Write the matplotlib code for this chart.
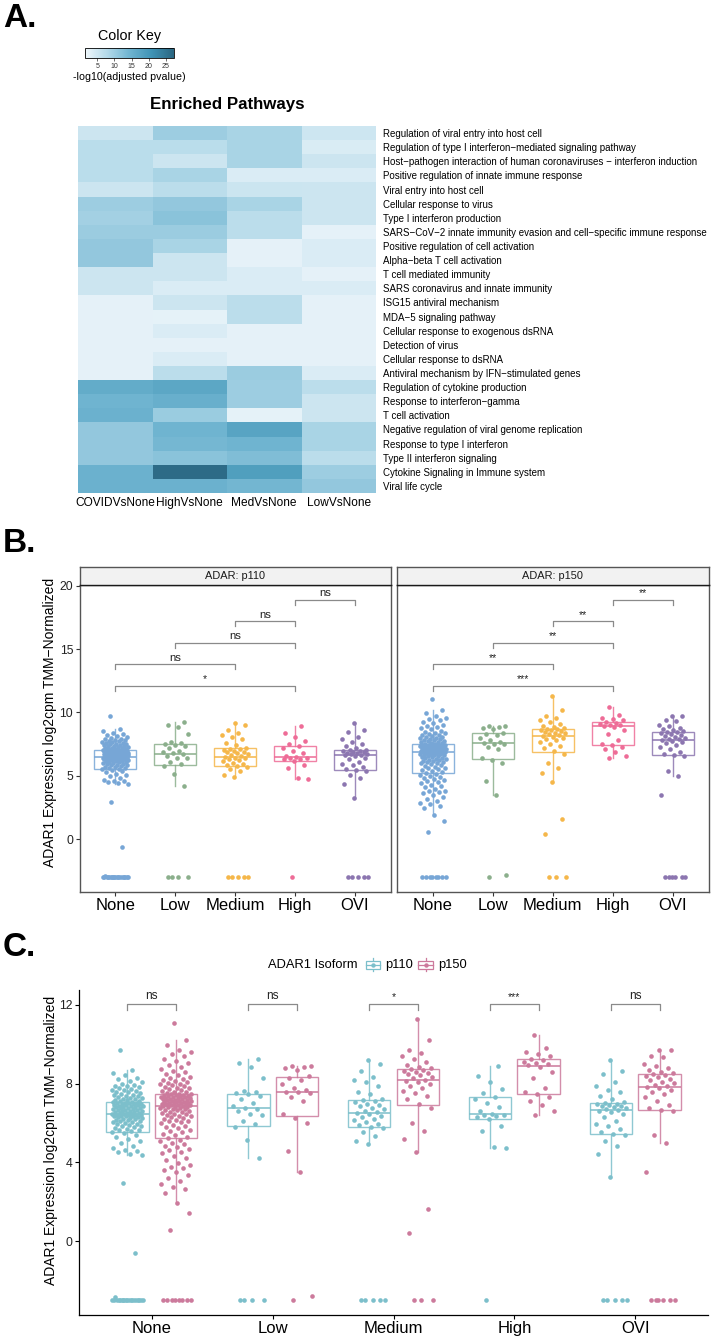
import numpy as np
import matplotlib.pyplot as plt
from matplotlib.colors import LinearSegmentedColormap, Normalize
from matplotlib.cm import ScalarMappable
from matplotlib.patches import Rectangle
from matplotlib.lines import Line2D
from matplotlib.legend_handler import HandlerBase
from matplotlib.colors import to_rgba

plt.rcParams['font.family'] = ['Liberation Sans', 'DejaVu Sans']

# ---------------- panel A: enriched pathways, -log10(adjusted pvalue)
pathways = [
    "Regulation of viral entry into host cell",
    "Regulation of type I interferon\u2212mediated signaling pathway",
    "Host\u2212pathogen interaction of human coronaviruses \u2212 interferon induction",
    "Positive regulation of innate immune response",
    "Viral entry into host cell",
    "Cellular response to virus",
    "Type I interferon production",
    "SARS\u2212CoV\u22122 innate immunity evasion and cell\u2212specific immune response",
    "Positive regulation of cell activation",
    "Alpha\u2212beta T cell activation",
    "T cell mediated immunity",
    "SARS coronavirus and innate immunity",
    "ISG15 antiviral mechanism",
    "MDA\u22125 signaling pathway",
    "Cellular response to exogenous dsRNA",
    "Detection of virus",
    "Cellular response to dsRNA",
    "Antiviral mechanism by IFN\u2212stimulated genes",
    "Regulation of cytokine production",
    "Response to interferon\u2212gamma",
    "T cell activation",
    "Negative regulation of viral genome replication",
    "Response to type I interferon",
    "Type II interferon signaling",
    "Cytokine Signaling in Immune system",
    "Viral life cycle",
]
comparisons = ["COVIDVsNone", "HighVsNone", "MedVsNone", "LowVsNone"]
covid_vs_none = [5.3, 7.1, 7.1, 7.1, 5.3, 10.0, 9.5, 10.2, 11.0, 11.0, 5.3, 5.3, 2.7,
                 2.7, 2.7, 2.7, 2.7, 2.7, 16.0, 14.4, 15.0, 11.0, 11.0, 11.0, 15.0, 15.0]
high_vs_none = [10.0, 7.1, 5.3, 8.9, 7.0, 11.0, 11.8, 10.2, 8.9, 5.3, 5.3, 3.8, 5.3,
                2.6, 3.8, 2.7, 3.8, 7.0, 17.0, 15.4, 10.3, 14.4, 13.8, 11.8, 26.4, 15.0]
med_vs_none = [8.9, 8.9, 8.9, 3.8, 5.4, 8.9, 7.0, 7.0, 2.7, 2.7, 3.8, 3.8, 7.0,
               7.0, 2.7, 2.7, 2.7, 10.2, 10.0, 10.0, 2.6, 17.5, 14.4, 12.8, 18.6, 14.0]
low_vs_none = [5.2, 3.9, 5.3, 3.8, 5.3, 5.3, 5.3, 2.7, 3.8, 3.8, 2.7, 3.8, 2.7,
               2.7, 2.7, 2.7, 2.7, 3.8, 7.0, 5.3, 5.3, 8.9, 8.9, 7.0, 10.0, 11.0]
key_ticks = [5, 10, 15, 20, 25]

# ---------------- panels B/C: ADAR1 expression, log2cpm TMM-normalized
groups = ["None", "Low", "Medium", "High", "OVI"]

none_p110 = [-3.0] * 19 + [-2.85, -0.6, 2.94] + [
    4.36, 4.41, 4.52, 4.58, 4.63, 4.71, 4.85, 4.97, 5.06, 5.18, 5.27, 5.38, 5.47,
    5.55, 5.58, 5.63, 5.66, 5.71, 5.74, 5.79, 5.83, 5.86, 5.9, 5.93, 5.97, 6.01, 6.03,
    6.06, 6.09, 6.12, 6.14, 6.17, 6.19, 6.22, 6.24, 6.27, 6.29, 6.31, 6.33, 6.35, 6.37,
    6.38, 6.4, 6.41, 6.42, 6.43, 6.44, 6.45,
    6.48, 6.5, 6.52, 6.53, 6.55, 6.57, 6.59, 6.61, 6.63, 6.65, 6.66, 6.68, 6.7, 6.72,
    6.74, 6.75, 6.77, 6.79, 6.8, 6.82, 6.84, 6.86, 6.87, 6.89, 6.91, 6.93, 6.94, 6.96,
    6.98, 7.0, 7.01, 7.03, 7.04, 7.06, 7.07,
    7.1, 7.12, 7.15, 7.18, 7.2, 7.23, 7.26, 7.29, 7.32, 7.35, 7.38, 7.41, 7.44, 7.48,
    7.51, 7.55, 7.58, 7.62, 7.66, 7.7, 7.74, 7.78, 7.82, 7.86, 7.9, 7.95, 8.0, 8.07,
    8.15, 8.22, 8.3, 8.42, 8.55, 8.7, 9.7]
none_p150 = [-3.0] * 8 + [0.57, 1.41] + [
    1.93, 2.45, 2.62, 2.75, 2.9, 3.05, 3.22, 3.35, 3.5, 3.62, 3.7, 3.78, 3.85, 3.95,
    4.1, 4.2, 4.32, 4.45, 4.55, 4.62, 4.7, 4.78, 4.85, 4.92, 5.0, 5.08, 5.14,
    5.22, 5.3, 5.38, 5.45, 5.52, 5.6, 5.66, 5.72, 5.8, 5.86, 5.92, 5.98, 6.03, 6.08,
    6.12, 6.17, 6.21, 6.25, 6.29, 6.33, 6.37, 6.41, 6.45, 6.48, 6.52, 6.55, 6.58, 6.61,
    6.64, 6.67, 6.7, 6.72, 6.75, 6.77, 6.79, 6.81, 6.83, 6.85,
    6.87, 6.89, 6.9, 6.92, 6.94, 6.95, 6.97, 6.99, 7.0, 7.02, 7.04, 7.05, 7.07, 7.09,
    7.1, 7.12, 7.14, 7.15, 7.17, 7.19, 7.2, 7.22, 7.24, 7.26, 7.27, 7.29, 7.31, 7.32,
    7.34, 7.36, 7.37, 7.39, 7.4, 7.42, 7.43, 7.45, 7.46,
    7.49, 7.53, 7.57, 7.6, 7.64, 7.68, 7.72, 7.76, 7.8, 7.84, 7.88, 7.92, 7.96, 8.0,
    8.05, 8.1, 8.15, 8.2, 8.25, 8.3, 8.36, 8.42, 8.5, 8.58, 8.66, 8.75, 8.85, 8.95,
    9.05, 9.15, 9.25, 9.38, 9.5, 9.6, 9.7, 9.95, 10.2, 11.1]
low_p110 = [-3.0, -3.0, -3.0, -3.0, 4.2, 5.13, 5.8, 5.95, 6.1, 6.4, 6.45, 6.6, 6.7,
            6.78, 6.85, 7.0, 7.2, 7.35, 7.45, 7.5, 7.6, 7.65, 8.3, 8.85, 9.05, 9.25]
low_p150 = [-3.0, -2.8, 3.52, 4.6, 6.0, 6.25, 6.45, 7.1, 7.3, 7.5, 7.55, 7.6, 7.7,
            7.8, 8.0, 8.2, 8.3, 8.4, 8.7, 8.8, 8.85, 8.9, 8.9]
med_p110 = [-3.0] * 5 + [
    4.93, 5.1, 5.35, 5.55, 5.72, 5.8, 5.88, 5.95, 6.05, 6.15, 6.22, 6.3, 6.38, 6.45,
    6.5, 6.55, 6.62, 6.7, 6.78, 6.85, 6.9, 6.98, 7.05, 7.1, 7.15, 7.2, 7.45, 7.6, 7.9,
    8.1, 8.2, 8.35, 8.65, 9.0, 9.2]
med_p150 = [-3.0] * 3 + [
    0.4, 1.64, 4.53, 5.2, 5.6, 6.0, 6.75, 6.95, 7.2, 7.35, 7.5, 7.65, 7.8, 7.9, 8.0,
    8.08, 8.15, 8.2, 8.28, 8.35, 8.42, 8.5, 8.55, 8.6, 8.65, 8.7, 8.72, 8.78, 8.85,
    8.95, 9.1, 9.25, 9.4, 9.55, 9.7, 10.2, 11.3]
high_p110 = [-3.0, 4.75, 4.8, 5.6, 5.85, 6.2, 6.3, 6.35, 6.4, 6.43, 6.47, 6.6, 6.8,
             7.0, 7.2, 7.32, 7.5, 7.75, 8.1, 8.4, 8.9]
high_p150 = [6.4, 6.6, 6.9, 7.1, 7.3, 7.45, 7.55, 7.8, 8.3, 8.6, 8.85, 8.95, 9.0,
             9.05, 9.1, 9.18, 9.25, 9.4, 9.5, 9.6, 9.8, 10.47]
ovi_p110 = [-3.0] * 5 + [
    3.27, 4.4, 4.85, 5.1, 5.4, 5.45, 5.55, 5.7, 5.85, 5.95, 6.1, 6.3, 6.45, 6.55,
    6.62, 6.68, 6.72, 6.76, 6.8, 6.84, 6.88, 6.92, 6.95, 6.98, 7.02, 7.06, 7.2, 7.35,
    7.55, 7.7, 7.9, 8.1, 8.5, 8.65, 9.2]
ovi_p150 = [-3.0] * 6 + [
    3.5, 4.97, 5.4, 6.6, 6.65, 6.75, 6.9, 7.1, 7.3, 7.45, 7.6, 7.7, 7.78, 7.82, 7.88,
    7.95, 8.02, 8.1, 8.18, 8.25, 8.32, 8.38, 8.44, 8.48, 8.52, 8.6, 8.7, 8.8, 8.9,
    9.0, 9.35, 9.4, 9.7, 9.7]

p110 = [none_p110, low_p110, med_p110, high_p110, ovi_p110]
p150 = [none_p150, low_p150, med_p150, high_p150, ovi_p150]

# pairwise tests (1-based group positions), bracket heights
b_pairs = [(4, 5), (3, 4), (2, 4), (1, 3), (1, 4)]
b_heights = [18.9, 17.2, 15.5, 13.8, 12.1]
b_labels_p110 = ["ns", "ns", "ns", "ns", "*"]
b_labels_p150 = ["**", "**", "**", "**", "***"]
c_labels = ["ns", "ns", "*", "***", "ns"]
c_height = 12.05

group_colors = ["#77A6D6", "#8BAF8C", "#F5B74A", "#EE6C97", "#8C76B0"]
iso_colors = {"p110": "#7CBFCB", "p150": "#CC7A9C"}

W, H = 714, 1337
fig = plt.figure(figsize=(W / 100, H / 100), dpi=100)


def fx(px):
    return px / W


def fy(px):
    return 1 - px / H


def spread(n, half):
    k = np.arange(n)
    return ((k * 0.6180339 + 0.37) % 1.0 - 0.5) * 2 * half


def draw_group(ax, x, vals, color, width, half):
    lc = to_rgba(color, 0.85)
    ax.boxplot([vals], positions=[x], widths=width, showfliers=False, showcaps=False,
               patch_artist=True, manage_ticks=False, zorder=2,
               boxprops=dict(facecolor="white", edgecolor=lc, linewidth=1.0),
               medianprops=dict(color=lc, linewidth=1.3),
               whiskerprops=dict(color=lc, linewidth=1.0))
    ax.scatter(x + spread(len(vals), half), vals, s=11, color=color,
               linewidths=0, zorder=3)


def bracket(ax, x1, x2, y, drop, label, fs):
    ax.plot([x1, x1, x2, x2], [y - drop, y, y, y - drop], color="#8a8a8a",
            lw=0.9, zorder=4)
    ax.text((x1 + x2) / 2, y + drop * 0.3, label, ha="center", va="bottom",
            fontsize=fs, color="#222222")


class BoxKey(HandlerBase):
    # little boxplot glyph with a point, as in the ggplot legend
    def create_artists(self, legend, orig, xd, yd, w, h, fontsize, trans):
        c = orig.get_color()
        cx, cy = xd + w / 2, yd + h / 2
        whisk = Line2D([cx, cx], [yd - 0.35 * h, yd + 1.35 * h], color=c, lw=0.9,
                       transform=trans)
        box = Rectangle((xd, yd), w, h, facecolor="white", edgecolor=c, lw=0.9,
                        transform=trans)
        med = Line2D([xd, xd + w], [cy, cy], color=c, lw=0.9, transform=trans)
        dot = Line2D([cx], [cy], marker="o", ms=3.2, mew=0, color=c, transform=trans)
        return [whisk, box, med, dot]


# ---------------- A
fig.text(fx(3), fy(27), "A.", fontsize=24, fontweight="bold", va="baseline")
cmap = LinearSegmentedColormap.from_list(
    "key", ["#F0F7FB", "#B3D9E9", "#6FB4D0", "#3F93B5", "#2A6580"])
norm = Normalize(vmin=1.4, vmax=27.4)

ax_hm = fig.add_axes([fx(78), fy(493), fx(298), 367 / H])
mat = np.column_stack([covid_vs_none, high_vs_none, med_vs_none, low_vs_none])
ax_hm.pcolormesh(mat, cmap=cmap, norm=norm, antialiased=False, edgecolors="none")
ax_hm.set_xlim(0, len(comparisons))
ax_hm.set_ylim(len(pathways), 0)
ax_hm.set_yticks(np.arange(len(pathways)) + 0.5, pathways, fontsize=7)
ax_hm.yaxis.tick_right()
ax_hm.set_xticks(np.arange(len(comparisons)) + 0.5, comparisons, fontsize=8.6)
ax_hm.tick_params(axis="y", length=0, pad=5)
ax_hm.tick_params(axis="x", length=0, pad=3)
for s in ax_hm.spines.values():
    s.set_visible(False)
fig.text(fx(227), fy(105), "Enriched Pathways", fontsize=12.2, fontweight="bold",
         ha="center", va="center")

cax = fig.add_axes([fx(85), fy(58.3), fx(89), 10.6 / H])
cb = fig.colorbar(ScalarMappable(norm=norm, cmap=cmap), cax=cax,
                  orientation="horizontal")
cb.set_ticks(key_ticks)
cax.tick_params(labelsize=5, length=2.5, width=0.5, pad=1, colors="#333333")
cb.outline.set_linewidth(0.6)
fig.text(fx(129.5), fy(36), "Color Key", fontsize=10.3, ha="center", va="center")
fig.text(fx(129.5), fy(77.5), "-log10(adjusted pvalue)", fontsize=7.7,
         ha="center", va="center")

# ---------------- B
fig.text(fx(3), fy(552), "B.", fontsize=24, fontweight="bold", va="baseline")
facets = [("ADAR: p110", p110, b_labels_p110, 79.5),
          ("ADAR: p150", p150, b_labels_p150, 397)]
xpos = np.arange(1, len(groups) + 1)
for k, (title, data, labels, left) in enumerate(facets):
    ax = fig.add_axes([fx(left), fy(892), fx(311.5), 307 / H])
    for i, vals in enumerate(data):
        draw_group(ax, xpos[i], vals, group_colors[i], 0.7, 0.22)
    for (a, b), y, lab in zip(b_pairs, b_heights, labels):
        bracket(ax, a, b, y, 0.4, lab, 8.2 if lab == "ns" else 7.5)
    ax.set_xlim(0.4, 5.6)
    ax.set_ylim(-4.15, 20.05)
    ax.set_xticks(xpos, groups, fontsize=12)
    ax.set_yticks([0, 5, 10, 15, 20])
    ax.tick_params(axis="both", length=3, width=0.8, colors="#333333", pad=1.5)
    ax.tick_params(axis="x", labelcolor="black")
    ax.tick_params(axis="y", labelsize=8.8, labelcolor="#222222")
    if k == 1:
        ax.tick_params(axis="y", left=False, labelleft=False)
    for s in ax.spines.values():
        s.set_color("#555555")
        s.set_linewidth(1.0)
    st = fig.add_axes([fx(left), fy(585), fx(311.5), 18 / H])
    st.set_facecolor("#F2F2F2")
    st.set_xticks([])
    st.set_yticks([])
    for s in st.spines.values():
        s.set_color("#555555")
        s.set_linewidth(1.0)
    st.spines["bottom"].set_color("#1a1a1a")
    st.text(0.5, 0.5, title, ha="center", va="center", fontsize=7.9,
            transform=st.transAxes, color="#1a1a1a")
fig.text(fx(50), fy(722), "ADAR1 Expression log2cpm TMM\u2212Normalized",
         rotation=90, fontsize=10, ha="center", va="center")

# ---------------- C
fig.text(fx(3), fy(956), "C.", fontsize=24, fontweight="bold", va="baseline")
axc = fig.add_axes([fx(79), fy(1315), fx(629), 325 / H])
for i in range(len(groups)):
    draw_group(axc, xpos[i] - 0.2, p110[i], iso_colors["p110"], 0.35, 0.13)
    draw_group(axc, xpos[i] + 0.2, p150[i], iso_colors["p150"], 0.35, 0.13)
    bracket(axc, xpos[i] - 0.2, xpos[i] + 0.2, c_height, 0.3, c_labels[i],
            8.5 if c_labels[i] == "ns" else 7.5)
axc.set_xlim(0.4, 5.6)
axc.set_ylim(-3.76, 12.76)
axc.set_xticks(xpos, groups, fontsize=12)
axc.set_yticks([0, 4, 8, 12])
axc.tick_params(axis="both", length=3, width=0.8, pad=1.5)
axc.tick_params(axis="y", labelsize=8.8, labelcolor="#222222")
axc.spines["top"].set_visible(False)
axc.spines["right"].set_visible(False)
for s in ("left", "bottom"):
    axc.spines[s].set_linewidth(0.9)
fig.text(fx(51), fy(1140), "ADAR1 Expression log2cpm TMM\u2212Normalized",
         rotation=90, fontsize=10, ha="center", va="center")

fig.text(fx(268), fy(965), "ADAR1 Isoform", fontsize=9.3, ha="left", va="center")
iso_handles = [Line2D([], [], color=iso_colors[k]) for k in ("p110", "p150")]
fig.legend(iso_handles, ["p110", "p150"], handler_map={Line2D: BoxKey()},
           loc="center left", bbox_to_anchor=(fx(366), fy(965)), ncol=2,
           frameon=False, fontsize=9.3, handlelength=1.1, handleheight=0.55,
           handletextpad=0.4, columnspacing=0.4, borderpad=0, borderaxespad=0)

fig.savefig("out.png", dpi=100)
